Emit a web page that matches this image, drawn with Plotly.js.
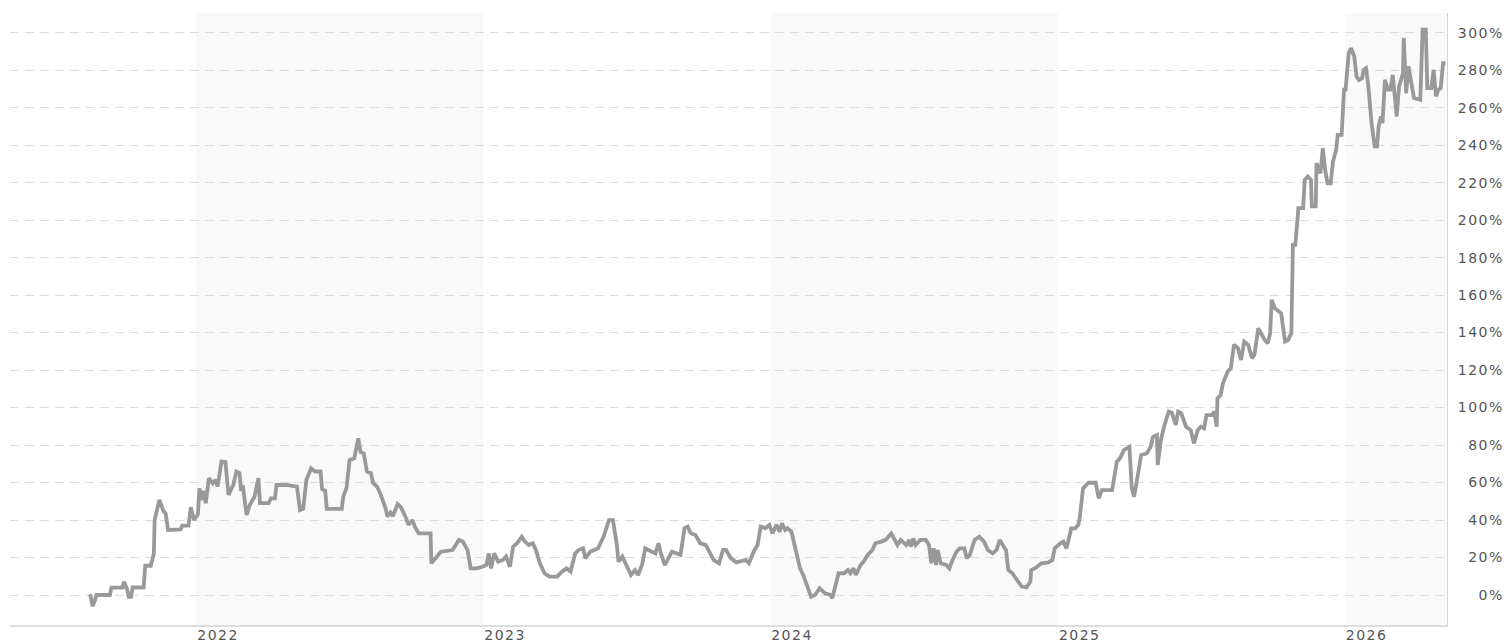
<!DOCTYPE html>
<html>
<head>
<meta charset="utf-8">
<script src="https://cdn.plot.ly/plotly-3.0.1.min.js"></script>
<style>
  html, body { margin: 0; padding: 0; background: #fff; }
  #chart { width: 1511px; height: 642px; }
  .xtick text, .ytick text { letter-spacing: 1.5px; }
</style>
</head>
<body>
<div id="chart"></div>
<script>
const dates = [
  "2021-08-19","2021-08-22","2021-08-25","2021-08-27","2021-09-13","2021-09-15","2021-09-29","2021-10-01",
  "2021-10-05","2021-10-07","2021-10-10","2021-10-12","2021-10-26","2021-10-28","2021-11-04","2021-11-08",
  "2021-11-09","2021-11-15","2021-11-20","2021-11-23","2021-11-26","2021-12-12","2021-12-14","2021-12-22",
  "2021-12-25","2021-12-29","2022-01-03","2022-01-05","2022-01-07","2022-01-10","2022-01-13","2022-01-17",
  "2022-01-22","2022-01-26","2022-01-28","2022-02-02","2022-02-07","2022-02-11","2022-02-17","2022-02-21",
  "2022-02-25","2022-02-27","2022-03-01","2022-03-06","2022-03-10","2022-03-16","2022-03-21","2022-03-23",
  "2022-04-03","2022-04-06","2022-04-11","2022-04-13","2022-04-26","2022-05-09","2022-05-13","2022-05-17",
  "2022-05-21","2022-05-27","2022-06-01","2022-06-08","2022-06-10","2022-06-14","2022-06-16","2022-07-05",
  "2022-07-07","2022-07-11","2022-07-15","2022-07-21","2022-07-26","2022-07-29","2022-08-02","2022-08-06",
  "2022-08-11","2022-08-14","2022-08-19","2022-08-23","2022-08-30","2022-09-01","2022-09-05","2022-09-08",
  "2022-09-14","2022-09-18","2022-09-24","2022-09-28","2022-10-03","2022-10-06","2022-10-11","2022-10-26",
  "2022-10-27","2022-11-02","2022-11-08","2022-11-23","2022-12-01","2022-12-06","2022-12-12","2022-12-16",
  "2022-12-24","2022-12-31","2023-01-05","2023-01-08","2023-01-11","2023-01-15","2023-01-20","2023-01-26",
  "2023-01-30","2023-02-04","2023-02-08","2023-02-13","2023-02-19","2023-02-23","2023-02-28","2023-03-05",
  "2023-03-09","2023-03-14","2023-03-20","2023-03-26","2023-04-05","2023-04-11","2023-04-17","2023-04-22",
  "2023-04-28","2023-05-02","2023-05-08","2023-05-11","2023-05-17","2023-05-27","2023-06-03","2023-06-10",
  "2023-06-15","2023-06-20","2023-06-22","2023-06-27","2023-07-03","2023-07-08","2023-07-13","2023-07-17",
  "2023-07-22","2023-07-26","2023-07-30","2023-08-08","2023-08-12","2023-08-15","2023-08-20","2023-08-25",
  "2023-08-29","2023-09-09","2023-09-14","2023-09-18","2023-09-22","2023-09-28","2023-10-04","2023-10-11",
  "2023-10-15","2023-10-21","2023-10-28","2023-11-02","2023-11-06","2023-11-12","2023-11-19","2023-12-01",
  "2023-12-05","2023-12-11","2023-12-16","2023-12-20","2023-12-26","2023-12-31","2024-01-04","2024-01-09",
  "2024-01-13","2024-01-16","2024-01-20","2024-01-23","2024-01-28","2024-02-02","2024-02-08","2024-02-12",
  "2024-02-16","2024-02-22","2024-02-27","2024-03-04","2024-03-11","2024-03-18","2024-03-20","2024-03-28",
  "2024-04-04","2024-04-09","2024-04-12","2024-04-16","2024-04-19","2024-04-25","2024-04-29","2024-05-04",
  "2024-05-10","2024-05-14","2024-05-21","2024-05-27","2024-06-03","2024-06-07","2024-06-11","2024-06-15",
  "2024-06-22","2024-06-26","2024-06-28","2024-07-01","2024-07-04","2024-07-10","2024-07-17","2024-07-21",
  "2024-07-24","2024-07-27","2024-07-30","2024-08-01","2024-08-05","2024-08-12","2024-08-16","2024-08-20",
  "2024-08-25","2024-08-29","2024-09-04","2024-09-07","2024-09-11","2024-09-17","2024-09-23","2024-09-29",
  "2024-10-04","2024-10-10","2024-10-15","2024-10-19","2024-10-23","2024-10-27","2024-10-30","2024-11-04",
  "2024-11-10","2024-11-16","2024-11-22","2024-11-27","2024-11-28","2024-12-05","2024-12-11","2024-12-20",
  "2024-12-25","2024-12-28","2025-01-04","2025-01-08","2025-01-12","2025-01-16","2025-01-18","2025-01-23",
  "2025-01-27","2025-01-29","2025-02-02","2025-02-09","2025-02-18","2025-02-22","2025-02-26","2025-03-11",
  "2025-03-17","2025-03-21","2025-03-26","2025-04-02","2025-04-05","2025-04-08","2025-04-12","2025-04-17",
  "2025-04-24","2025-04-29","2025-05-02","2025-05-07","2025-05-08","2025-05-12","2025-05-16","2025-05-22",
  "2025-05-26","2025-05-31","2025-06-03","2025-06-07","2025-06-13","2025-06-19","2025-06-23","2025-06-28",
  "2025-07-02","2025-07-06","2025-07-09","2025-07-16","2025-07-19","2025-07-22","2025-07-23","2025-07-27",
  "2025-07-30","2025-08-05","2025-08-09","2025-08-13","2025-08-18","2025-08-22","2025-08-26","2025-08-31",
  "2025-09-05","2025-09-08","2025-09-13","2025-09-16","2025-09-21","2025-09-25","2025-09-28","2025-09-30",
  "2025-10-04","2025-10-12","2025-10-16","2025-10-17","2025-10-21","2025-10-25","2025-10-27","2025-10-30",
  "2025-11-03","2025-11-09","2025-11-11","2025-11-15","2025-11-19","2025-11-20","2025-11-25","2025-11-26",
  "2025-12-01","2025-12-04","2025-12-07","2025-12-10","2025-12-14","2025-12-17","2025-12-21","2025-12-23",
  "2025-12-28","2025-12-31","2026-01-02","2026-01-06","2026-01-09","2026-01-13","2026-01-16","2026-01-19",
  "2026-01-23","2026-01-25","2026-01-28","2026-01-31","2026-02-04","2026-02-08","2026-02-11","2026-02-13",
  "2026-02-16","2026-02-18","2026-02-21","2026-02-25","2026-02-28","2026-03-03","2026-03-06","2026-03-08",
  "2026-03-11","2026-03-16","2026-03-17","2026-03-20","2026-03-23","2026-03-27","2026-03-30","2026-04-07",
  "2026-04-10","2026-04-14","2026-04-16","2026-04-21","2026-04-24","2026-04-27","2026-04-30","2026-05-03",
  "2026-05-06","2026-05-09"
];
const changePct = [
  0.5,-6,-3,0,0,3.9,3.9,7.1,
  3,-1,-1,4,4,15.6,15.6,22,
  40,50.7,45,43.5,34.7,35,37,37,
  46.8,40,43,57,50.7,55.6,49,62.3,
  59.6,61.4,57.8,71.2,71,53.4,58.7,65.9,
  65,55.6,58.7,42.7,48,52.5,62.3,49,
  49,51.6,51.6,58.7,58.7,57.8,45.3,46,
  61.4,67.6,65.9,65.9,56.5,55.6,46,46,
  52.4,57,72,72.9,83.6,76.3,75.5,65.9,
  65,59.6,57.8,54.2,46,41.8,44,42,
  48.5,47,41.8,37.4,40,36.5,32.9,32.9,
  16.9,20.3,23.1,24,29.4,28.5,24,14.2,
  14.2,15.1,16,22.2,14.2,22.2,17.8,18.7,
  20.5,15.1,25.8,27.6,31,28.5,26.7,27.6,
  24,16.9,11.6,9.8,9.8,12.5,14.2,12.5,
  22.2,24,24.9,19.6,23.1,24.9,31,40,
  40,26.7,17.8,20.5,15.1,10.7,13.3,10.7,
  16,24.9,24,22.2,27.6,22.2,16,19.6,
  23.1,21.4,35.6,36.5,32.9,32,27.6,26.7,
  23.1,18.7,16.9,24,24,19.6,17.4,18.7,
  16.9,23.1,26.7,36.5,35.6,37.4,32.9,37.4,
  33.8,38.3,34.7,35.6,33.8,24,14.2,10.7,
  6.2,-0.9,0,3.6,0.9,0,-1.8,11.6,
  11.6,13.3,11.6,14.2,10.7,16,17.8,21.4,
  24,27.6,28.5,29.4,32.9,30.2,26.7,29.4,
  26.7,29.4,25.8,30.2,26.7,29.4,29.4,26.7,
  16.9,24.9,16,24,16.9,16,14.2,18.7,
  23.1,24.9,24.9,19.6,21.4,29.4,31.1,28.5,
  24,22.2,24,29.4,26.7,24,13.3,11.6,
  8,4.5,4.1,7.1,13.3,14.8,16.9,17.4,
  18.7,24.9,27.6,28.5,24.9,33.8,35.6,35.6,
  37.4,41.8,56.9,59.9,59.9,51.6,56,56,
  71.2,72.9,77.3,79.1,57,52.4,61.4,74.7,
  75.5,79.1,84.4,85.4,69.4,82.7,89.8,97.8,
  97.3,90.7,97.8,96.9,89.8,88,80.9,88,
  89.8,88.9,96,96,97.8,89.8,105,106.7,
  112.9,119.2,121,133.5,131.7,125.4,135.2,133.5,
  126.3,128.1,142.3,140,136.1,134.3,139.7,157.5,
  153,150.3,140.5,135.2,136.1,139.7,186.8,186.8,
  206.4,206.4,221.5,223.3,221.5,207.3,207.3,230.4,
  225,238.4,226.8,219.6,219.6,231.3,237.6,245.5,
  245.5,269.6,269.6,289.1,291.8,287.3,276.6,274.8,
  275.7,280.2,281.1,271.3,251.8,239.3,239.3,250,
  255.3,251.8,274.8,269.6,269.6,277.5,264.2,255.3,
  271.3,278.4,297.2,267.7,282,271.3,265.1,264.2,
  301.6,301.6,270.4,270.4,280.2,266,269.6,270.4,
  283.8,283.8
];
const shadedYears = ["2022", "2024", "2026"];
const yTickValues = [0, 20, 40, 60, 80, 100, 120, 140, 160, 180, 200, 220, 240, 260, 280, 300];
const yTickLabels = ["0%","20%","40%","60%","80%","100%","120%","140%","160%","180%","200%","220%","240%","260%","280%","300%"];

const X_MIN = "2021-05-09", X_MAX = "2026-05-11";

const figSpace = "\u2007";
const paddedLabels = yTickLabels.map(t => figSpace.repeat(Math.max(0, 4 - t.length)) + t);

const shapes = shadedYears.map(y => ({
  type: "rect", xref: "x", yref: "paper",
  x0: y + "-01-01", x1: (parseInt(y) + 1) + "-01-01",
  y0: 0, y1: 1,
  fillcolor: "#f9f9f9", line: {width: 0}, layer: "below"
}));

const trace = {
  x: dates, y: changePct, type: "scatter", mode: "lines",
  line: {color: "#999999", width: 3.8, shape: "linear"},
  hoverinfo: "skip"
};

const tickFont = {family: "DejaVu Sans, Verdana, sans-serif", size: 14, color: "#555555"};

const layout = {
  width: 1511, height: 642,
  margin: {l: 10, r: 64, t: 13, b: 17, pad: 0},
  paper_bgcolor: "#ffffff", plot_bgcolor: "rgba(0,0,0,0)",
  showlegend: false,
  shapes: shapes,
  xaxis: {
    type: "date", range: [X_MIN, X_MAX],
    showgrid: false, zeroline: false,
    showline: true, linecolor: "#dddddd", linewidth: 2,
    ticks: "", dtick: "M12", tick0: "2022-01-01", tickformat: "%Y",
    ticklabelposition: "outside right",
    ticklabelstandoff: -4,
    tickfont: tickFont
  },
  yaxis: {
    range: [-16, 310.5], side: "right",
    showgrid: true, gridcolor: "#dcdcdc", gridwidth: 1, griddash: "9px,6px",
    zeroline: false,
    showline: true, linecolor: "#d4d4d4", linewidth: 1,
    ticks: "", tickmode: "array", tickvals: yTickValues, ticktext: paddedLabels,
    ticklabelstandoff: 7,
    tickfont: tickFont
  }
};

Plotly.newPlot("chart", [trace], layout, {staticPlot: true, displayModeBar: false});
</script>
</body>
</html>
